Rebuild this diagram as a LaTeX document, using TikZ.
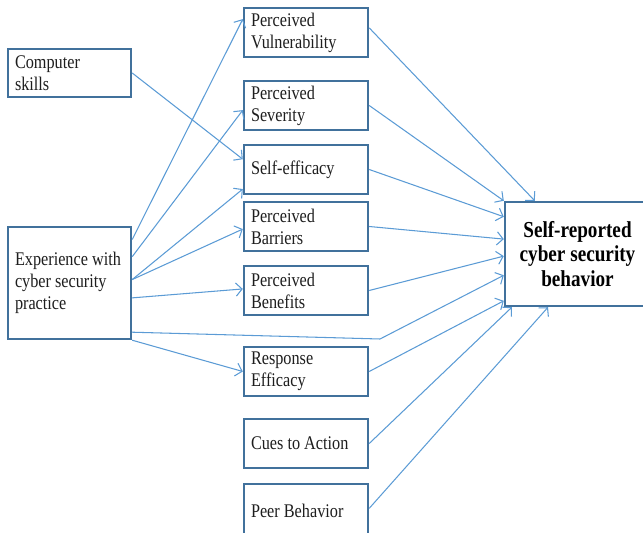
\documentclass[tikz,border=0pt]{standalone}
\usepackage{fontspec}
\setmainfont{Liberation Serif}[FakeStretch=0.84]
\usetikzlibrary{arrows.meta,calc}
\definecolor{boxblue}{RGB}{65,113,156}
\definecolor{lineblue}{RGB}{91,155,213}
\definecolor{txtgray}{RGB}{30,30,30}
\tikzset{
  factor/.style={draw=boxblue, line width=1.4pt, fill=white, text=txtgray,
    inner xsep=0.14cm, inner ysep=0pt, text width=2.2cm, minimum height=0.98cm,
    align=flush left, font=\fontsize{11}{12.5}\selectfont},
  outcome/.style={draw=boxblue, line width=1.4pt, fill=white, inner sep=0pt,
    minimum width=2.9cm, minimum height=2.08cm, align=center,
    font=\fontsize{13}{14}\selectfont\bfseries},
  link/.style={draw=lineblue, line width=0.6pt, -{Straight Barb[length=3.5pt,width=7.5pt]}},
}
\begin{document}
\begin{tikzpicture}[x=0.02cm, y=-0.02cm]
  \useasboundingbox (0,0) rectangle (643,533);

  % antecedents
  \node[factor, text width=2.18cm, minimum height=0.96cm] (cs) at (69.5,73) {Computer\\skills};
  \node[factor, text width=2.18cm, minimum height=2.24cm] (exp) at (69.5,283) {Experience with\\cyber security\\practice};

  % health belief factors
  \node[factor] (vul) at (306,32.5) {Perceived\\Vulnerability};
  \node[factor] (sev) at (306,105.5) {Perceived\\Severity};
  \node[factor] (se) at (306,169.5) {Self-efficacy};
  \node[factor] (bar) at (306,226.5) {Perceived\\Barriers};
  \node[factor] (ben) at (306,290.5) {Perceived\\Benefits};
  \node[factor] (re) at (306,371.5) {Response\\Efficacy};
  \node[factor] (cue) at (306,443.5) {Cues to Action};
  \node[factor, minimum height=1.08cm] (peer) at (306,511) {Peer Behavior};

  % outcome
  \node[outcome] (tgt) at (577.5,254) {Self-reported\\cyber security\\behavior};
  \coordinate (bend) at (380,339);

  \draw[link] (cs.east) -- ($(se.north west)!0.3!(se.south west)$);

  \draw[link] ($(exp.north east)!0.12!(exp.south east)$) -- ($(vul.north west)!0.24!(vul.south west)$);
  \draw[link] ($(exp.north east)!0.27!(exp.south east)$) -- ($(sev.north west)!0.59!(sev.south west)$);
  \draw[link] ($(exp.north east)!0.47!(exp.south east)$) -- ($(se.north west)!0.88!(se.south west)$);
  \draw[link] ($(exp.north east)!0.47!(exp.south east)$) -- ($(bar.north west)!0.55!(bar.south west)$);
  \draw[link] ($(exp.north east)!0.63!(exp.south east)$) -- ($(ben.north west)!0.47!(ben.south west)$);
  \draw[link] ($(exp.north east)!0.93!(exp.south east)$) -- (bend) -- ($(tgt.north west)!0.70!(tgt.south west)$);
  \draw[link] (exp.south east) -- (re.west);

  \draw[link] ($(vul.north east)!0.41!(vul.south east)$) -- ($(tgt.north west)!0.21!(tgt.north east)$);
  \draw[link] (sev.east) -- (tgt.north west);
  \draw[link] (se.east) -- ($(tgt.north west)!0.15!(tgt.south west)$);
  \draw[link] (bar.east) -- ($(tgt.north west)!0.36!(tgt.south west)$);
  \draw[link] (ben.east) -- ($(tgt.north west)!0.52!(tgt.south west)$);
  \draw[link] (re.east) -- ($(tgt.north west)!0.94!(tgt.south west)$);
  \draw[link] (cue.east) -- ($(tgt.south west)!0.055!(tgt.south east)$);
  \draw[link] ([yshift=1.5pt]peer.east) -- ($(tgt.south west)!0.3!(tgt.south east)$);
\end{tikzpicture}
\end{document}
